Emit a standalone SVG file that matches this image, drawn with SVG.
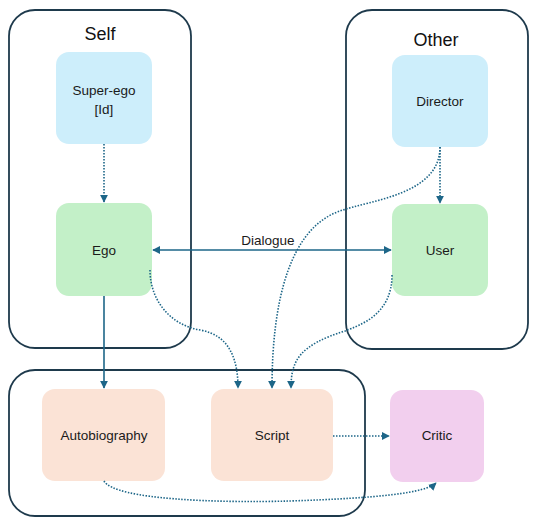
<svg xmlns="http://www.w3.org/2000/svg" width="534" height="526" viewBox="0 0 534 526">
<defs>
<style>
.container{fill:none;stroke:#1e3a4c;stroke-width:1.8}
.title{font-family:"Liberation Sans",Arial,sans-serif;font-size:18px;fill:#111;text-anchor:middle}
.label{font-family:"Liberation Sans",Arial,sans-serif;font-size:13.5px;fill:#1a1a1a;text-anchor:middle}
.blue{fill:#cdeefb}
.green{fill:#c3f0c8}
.peach{fill:#fbe3d6}
.pink{fill:#f2cfee}
.solid{fill:none;stroke:#1d6688;stroke-width:1.6}
.dot{fill:none;stroke:#1d6688;stroke-width:1.6;stroke-dasharray:1.5 1.5}
</style>
<marker id="arr" viewBox="0 0 10 10" refX="9" refY="5" markerWidth="5" markerHeight="5" orient="auto-start-reverse">
<path d="M0,0 L10,5 L0,10 z" fill="#1d6688"/>
</marker>
</defs>
<rect width="534" height="526" fill="#fff"/>
<g id="self">
<rect class="container" x="9" y="10" width="182" height="338" rx="26"/>
<text class="title" x="100" y="40">Self</text>
</g>
<g id="other">
<rect class="container" x="346" y="10" width="182" height="339" rx="26"/>
<text class="title" x="436" y="46">Other</text>
</g>
<g id="bottom">
<rect class="container" x="9" y="370" width="356" height="146" rx="26"/>
</g>
<g id="superego">
<rect class="blue" x="56" y="52" width="96" height="92" rx="13"/>
<text class="label" x="104" y="95">Super-ego</text>
<text class="label" x="104" y="114">[Id]</text>
</g>
<g id="ego">
<rect class="green" x="56" y="203" width="96" height="93" rx="13"/>
<text class="label" x="104" y="255">Ego</text>
</g>
<g id="director">
<rect class="blue" x="392" y="55" width="96" height="92" rx="13"/>
<text class="label" x="440" y="106">Director</text>
</g>
<g id="user">
<rect class="green" x="392" y="204" width="96" height="92" rx="13"/>
<text class="label" x="440" y="255">User</text>
</g>
<g id="autobiography">
<rect class="peach" x="42" y="389" width="123" height="92" rx="13"/>
<text class="label" x="104" y="440">Autobiography</text>
</g>
<g id="script">
<rect class="peach" x="211" y="389" width="122" height="92" rx="13"/>
<text class="label" x="272" y="440">Script</text>
</g>
<g id="critic">
<rect class="pink" x="390" y="390" width="94" height="92" rx="13"/>
<text class="label" x="437" y="440">Critic</text>
</g>
<g id="connectors">
<path class="dot" d="M104,144 L104,202" marker-end="url(#arr)"/>
<path class="solid" d="M153,250 L391,250" marker-start="url(#arr)" marker-end="url(#arr)"/>
<text class="label" x="268" y="245">Dialogue</text>
<path class="dot" d="M440,147 L440,203" marker-end="url(#arr)"/>
<path class="dot" d="M440,147 C440,195 370,200 340,211 C290,228 272,300 272,388" marker-end="url(#arr)"/>
<path class="dot" d="M392,275 C392,315 360,325 345,331 C300,345 291,360 291,388" marker-end="url(#arr)"/>
<path class="dot" d="M150,270 C150,300 170,325 200,330 C230,335 238,360 238,388" marker-end="url(#arr)"/>
<path class="solid" d="M104,296 L104,388" marker-end="url(#arr)"/>
<path class="dot" d="M333,436 L389,436" marker-end="url(#arr)"/>
<path class="dot" d="M104,481 C115,500 220,503 290,501 C380,498 425,493 436,483" marker-end="url(#arr)"/>
</g>
</svg>
